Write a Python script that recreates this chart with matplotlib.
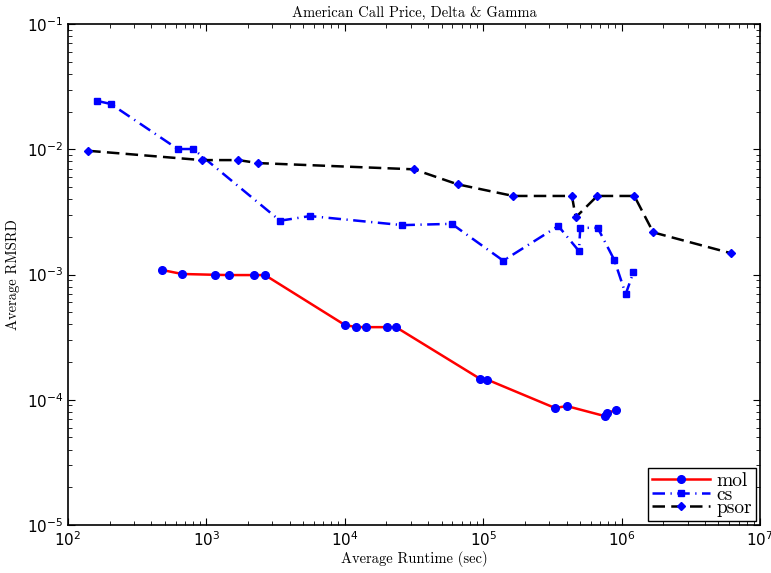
import numpy as np
import matplotlib
matplotlib.use('Agg')
import matplotlib.pyplot as plt

# runtime (sec) / average RMSRD
mol_t = [478, 667, 1153, 1456, 2206, 2650, 10030, 12040, 14220, 20170, 23430,
         94900, 106500, 330000, 403000, 758000, 784000, 911000]
mol_err = [1.087e-3, 1.01e-3, 9.95e-4, 9.9e-4, 9.9e-4, 9.9e-4, 3.95e-4, 3.81e-4, 3.8e-4,
           3.8e-4, 3.8e-4, 1.47e-4, 1.45e-4, 8.6e-5, 8.9e-5, 7.4e-5, 7.8e-5, 8.3e-5]

cs_t = [161, 204, 621, 804, 3405, 5610, 26100, 59200, 139600, 349000, 492000,
        503000, 672000, 885000, 1071000, 1217000]
cs_err = [0.0244, 0.0230, 0.01005, 0.01005, 2.69e-3, 2.93e-3, 2.48e-3, 2.54e-3,
          1.29e-3, 2.44e-3, 1.54e-3, 2.36e-3, 2.36e-3, 1.31e-3, 6.98e-4, 1.04e-3]

psor_t = [140, 925, 1701, 2362, 31600, 65400, 164800, 438000, 466000, 667000,
          1236000, 1694000, 6170000]
psor_err = [9.73e-3, 8.2e-3, 8.2e-3, 7.76e-3, 6.92e-3, 5.25e-3, 4.24e-3, 4.24e-3,
            2.86e-3, 4.24e-3, 4.24e-3, 2.17e-3, 1.48e-3]

serif = 'cmr10'
plt.rcParams['mathtext.fontset'] = 'custom'
plt.rcParams['mathtext.rm'] = 'Liberation Sans'
plt.rcParams['mathtext.it'] = 'Liberation Sans:italic'
plt.rcParams['mathtext.bf'] = 'Liberation Sans:bold'

fig = plt.figure(figsize=(7.71, 5.73), dpi=100)
ax = fig.add_axes([0.0882, 0.0838, 0.8975, 0.8742])

ax.loglog(mol_t, mol_err, '-o', color='red', lw=1.8, mfc='blue', mec='blue',
          ms=5.5, label='mol')
ax.loglog(cs_t, cs_err, '-.s', color='blue', lw=1.8, mfc='blue', mec='blue',
          ms=5, dashes=(5, 2.2, 0.5, 2.2), label='cs')
ax.loglog(psor_t, psor_err, '--D', color='black', lw=1.8, mfc='blue', mec='blue',
          ms=4.5, dashes=(5, 2.5), label='psor')

ax.set_xlim(1e2, 1e7)
ax.set_ylim(1e-5, 1e-1)

ax.tick_params(which='both', direction='in', top=True, right=True, labelsize=11)
ax.tick_params(which='major', length=5)
ax.tick_params(which='minor', length=3)
for s in ax.spines.values():
    s.set_linewidth(1.2)

ax.set_title('American Call Price, Delta & Gamma', fontsize=10.5, family=serif, pad=5)
ax.set_xlabel('Average Runtime (sec)', fontsize=10.5, family=serif, labelpad=2)
ax.set_ylabel('Average RMSRD', fontsize=10.5, family=serif, labelpad=5)

leg = ax.legend(loc='lower right', prop={'family': serif, 'size': 14},
                fancybox=False, edgecolor='black', framealpha=1,
                handlelength=3.0, handletextpad=0.35, labelspacing=-0.22,
                borderpad=0.2, borderaxespad=0.2)
leg.get_frame().set_linewidth(1.0)

fig.savefig('out.png', dpi=100)
